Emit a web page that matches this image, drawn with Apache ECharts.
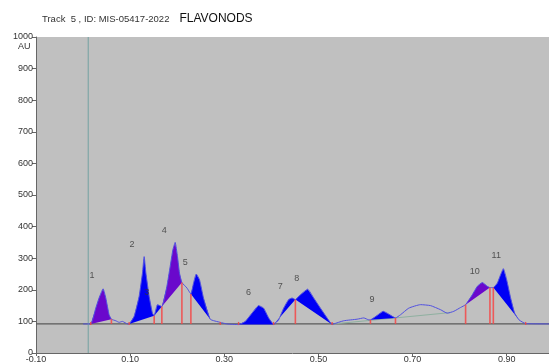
<!DOCTYPE html>
<html>
<head>
<meta charset="utf-8">
<script src="https://cdn.jsdelivr.net/npm/echarts@6/dist/echarts.min.js"></script>
<style>
html,body{margin:0;padding:0;background:#fff;}
#c{width:549px;height:364px;}
</style>
</head>
<body>
<div id="c"></div>
<script>
// ---- data ----
const titleMain = 'Track  5 , ID: MIS-05417-2022';
const titleSub = 'FLAVONODS';
const yUnit = 'AU';
const baselineLevel = 92;
const markerX = 0.011;

const curveX = [0.000, 0.0164, 0.0270, 0.0340, 0.0426, 0.0483, 0.0553, 0.0602, 0.0696, 0.0766, 0.0836, 0.0943,
  0.0979, 0.1085, 0.1191, 0.1262, 0.1298, 0.1334, 0.1404, 0.1474, 0.1511, 0.1581, 0.1674, 0.1781, 0.1851,
  0.1909, 0.1957, 0.2006, 0.2049, 0.2100, 0.2206, 0.2291, 0.2347, 0.2404, 0.2474, 0.2559, 0.2702, 0.2915,
  0.3057, 0.3304, 0.3447, 0.3589, 0.3730, 0.3836, 0.3943, 0.4049, 0.4155, 0.4262, 0.4368, 0.4440, 0.4511,
  0.4617, 0.4772, 0.4900, 0.5043, 0.5185, 0.5291, 0.5326, 0.5538, 0.5823, 0.5964, 0.6070, 0.6106, 0.6249,
  0.6377, 0.6496, 0.6638, 0.6745, 0.6921, 0.7170, 0.7383, 0.7596, 0.7738, 0.7879, 0.8021, 0.8128, 0.8270,
  0.8377, 0.8483, 0.8589, 0.8645, 0.8717, 0.8802, 0.8872, 0.8930, 0.9000, 0.9085, 0.9170, 0.9262, 0.9404, 0.9915];
const curveY = [92, 92, 142, 174, 203, 174, 121, 107, 102, 97, 100, 92,
  92, 116, 179, 253, 305, 254, 179, 126, 118, 153, 147, 211, 274,
  327, 350, 305, 253, 223, 206, 187, 221, 250, 232, 174, 107, 97,
  92, 90, 100, 126, 150, 142, 111, 90, 105, 142, 169, 174, 169,
  184, 202, 174, 142, 111, 90, 92, 102, 107, 111, 105, 105, 119,
  132, 123, 111, 121, 142, 153, 150, 137, 126, 132, 144, 153, 184,
  211, 223, 211, 207, 207, 221, 248, 267, 232, 174, 126, 105, 93, 92];

const peakStart = [0.0164, 0.0979, 0.1511, 0.1674, 0.2291, 0.3304, 0.4049, 0.4511, 0.6106, 0.8128, 0.8717];
const peakEnd   = [0.0602, 0.1511, 0.1674, 0.2100, 0.2702, 0.4049, 0.4511, 0.5291, 0.6638, 0.8645, 0.9262];
const purplePeaks = [1, 4, 10];

const boundaryX = [0.0602, 0.1511, 0.1674, 0.2100, 0.2291, 0.4511, 0.6106, 0.6638, 0.8128, 0.8645, 0.8717];
const tickMarksX = [0.0164, 0.0979, 0.2915, 0.3304, 0.4049, 0.5291, 0.9404];

const greenLineX = [0.5326, 0.7809];
const greenLineY = [92, 128];

const labelNames = ['1','2','3','4','5','6','7','8','9','10','11'];
const labelX = [0.019, 0.104, 0.1355, 0.1723, 0.217, 0.3517, 0.419, 0.454, 0.614, 0.832, 0.878];
const labelY = [245, 343, 191, 388, 285, 190, 211, 237, 168, 258, 308];

// ---- helpers ----
function valueAt(x){
  for (let i=0;i<curveX.length;i++){ if (Math.abs(curveX[i]-x)<1e-6) return curveY[i]; }
  return baselineLevel;
}
const curveData = curveX.map((x,i)=>[x, curveY[i]]);
const peakData = peakStart.map((s,i)=>[s, peakEnd[i], i+1]);
const FONT = '"Liberation Sans", Arial, sans-serif';

const chart = echarts.init(document.getElementById('c'));
chart.setOption({
  animation: false,
  backgroundColor: '#ffffff',
  title: {
    text: '{a|' + titleMain + '}  {b|' + titleSub + '}',
    left: 37, top: 5,
    textStyle: { rich: {
      a: { fontSize: 9.5, color: '#333', fontFamily: FONT, fontWeight: 'normal' },
      b: { fontSize: 12, color: '#111', fontFamily: FONT, fontWeight: 'normal' }
    }}
  },
  graphic: [{ type: 'text', left: 18, top: 42, style: { text: yUnit, font: '9px ' + FONT, fill: '#333' } }],
  grid: { left: 36, right: 0, top: 37, bottom: 11, show: true, backgroundColor: '#c0c0c0', borderWidth: 0 },
  xAxis: {
    type: 'value', min: -0.1, max: 0.99, interval: 0.2,
    axisLine: { show: true, onZero: false, lineStyle: { color: '#666', width: 1 } },
    axisTick: { show: true, length: 3, lineStyle: { color: '#666' } },
    axisLabel: { fontSize: 9, color: '#333', margin: 2, fontFamily: FONT, showMaxLabel: false,
      formatter: v => v.toFixed(2) },
    splitLine: { show: false }
  },
  yAxis: {
    type: 'value', min: 0, max: 1000, interval: 100,
    axisLine: { show: true, onZero: false, lineStyle: { color: '#666', width: 1 } },
    axisTick: { show: true, length: 4, lineStyle: { color: '#666' } },
    axisLabel: { fontSize: 9, color: '#333', margin: 3, fontFamily: FONT, formatter: v => String(v) },
    splitLine: { show: false }
  },
  series: [
    { type: 'line', data: [[-0.1, baselineLevel], [0.99, baselineLevel]], symbol: 'none',
      lineStyle: { color: '#5a5a5a', width: 1.2 }, z: 1, silent: true },
    { type: 'line', data: [[markerX, 0], [markerX, 1000]], symbol: 'none',
      lineStyle: { color: '#7fa6a6', width: 1.2 }, z: 1, silent: true },
    { type: 'line', data: greenLineX.map((x,i)=>[x, greenLineY[i]]), symbol: 'none',
      lineStyle: { color: '#8fb0a0', width: 1 }, z: 2, silent: true },
    { type: 'custom', data: peakData, z: 3, silent: true,
      renderItem: function(params, api){
        const s = api.value(0), e = api.value(1), id = api.value(2);
        const pts = [];
        for (let i=0;i<curveX.length;i++){
          if (curveX[i] >= s-1e-6 && curveX[i] <= e+1e-6) pts.push(api.coord([curveX[i], curveY[i]]));
        }
        return { type: 'polygon', shape: { points: pts },
          style: { fill: purplePeaks.indexOf(id) >= 0 ? '#6a08cc' : '#0000f5', stroke: null } };
      }
    },
    { type: 'line', data: curveData, symbol: 'none', smooth: 0.15,
      lineStyle: { color: '#5050e0', width: 1 }, z: 4, silent: true },
    { type: 'custom', data: boundaryX.map(x=>[x, valueAt(x)]), z: 5, silent: true,
      renderItem: function(params, api){
        const x = api.value(0), v = api.value(1);
        const p0 = api.coord([x, baselineLevel]), p1 = api.coord([x, v]);
        return { type: 'line', shape: { x1: p0[0], y1: p0[1], x2: p1[0], y2: p1[1] },
          style: { stroke: 'rgba(245,70,70,0.85)', lineWidth: 1.6 } };
      }
    },
    { type: 'custom', data: tickMarksX.map(x=>[x, baselineLevel]), z: 5, silent: true,
      renderItem: function(params, api){
        const p = api.coord([api.value(0), api.value(1)]);
        return { type: 'line', shape: { x1: p[0], y1: p[1]-2, x2: p[0], y2: p[1]+1 },
          style: { stroke: 'rgba(240,70,70,0.9)', lineWidth: 1.4 } };
      }
    },
    { type: 'scatter', data: labelX.map((x,i)=>({ value: [x, labelY[i]], name: labelNames[i] })),
      symbolSize: 0, z: 6, silent: true,
      label: { show: true, position: 'inside', formatter: p => p.name, fontSize: 9, color: '#333', fontFamily: FONT } }
  ]
});
</script>
</body>
</html>
